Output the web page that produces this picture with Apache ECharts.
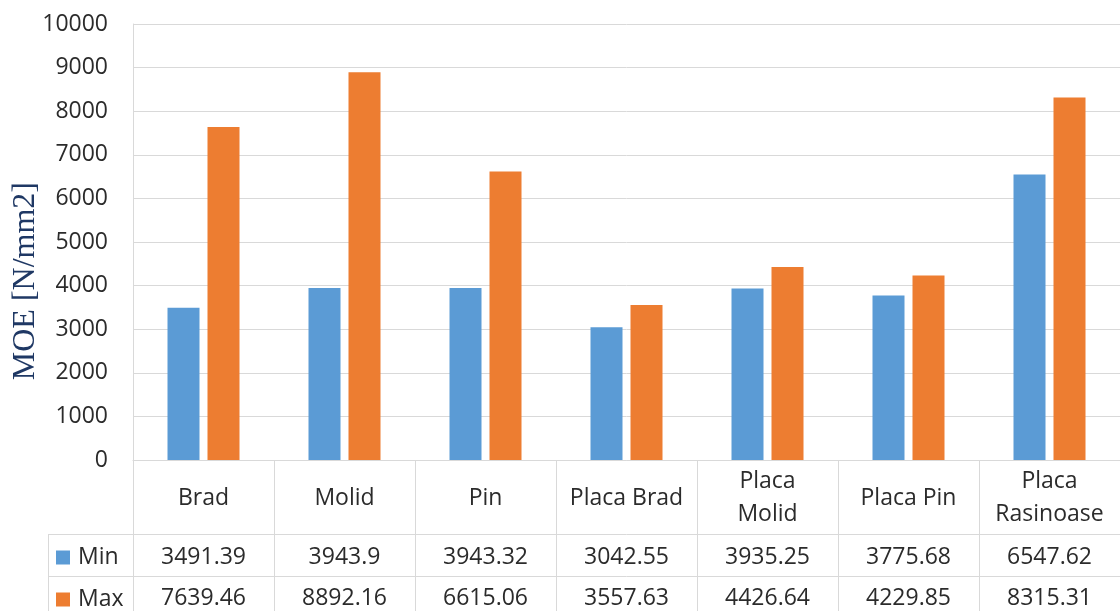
<!DOCTYPE html>
<html>
<head>
<meta charset="utf-8">
<title>MOE</title>
<script src="https://cdn.jsdelivr.net/npm/echarts@6/dist/echarts.min.js"></script>
<style>
  html, body { margin: 0; padding: 0; background: #ffffff; }
  #chart { width: 1120px; height: 611px; }
</style>
</head>
<body>
<div id="chart"></div>
<script>
// Sample categories and MOE values (N/mm2)
const categories = ['Brad', 'Molid', 'Pin', 'Placa Brad', 'Placa\nMolid', 'Placa Pin', 'Placa\nRasinoase'];
const minValues = [3491.39, 3943.9, 3943.32, 3042.55, 3935.25, 3775.68, 6547.62];
const maxValues = [7639.46, 8892.16, 6615.06, 3557.63, 4426.64, 4229.85, 8315.31];
const seriesNames = ['Min', 'Max'];
const yTicks = { min: 0, max: 10000, step: 1000 };

const lineColor = '#d9d9d9';
const textColor = '#2b2b2b';
const font = 'Open Sans';
const fontSize = 23;

const chart = echarts.init(document.getElementById('chart'), null, { renderer: 'canvas' });

// one value-row of the data table under the plot, as an extra category axis
function tableRow(values, offset, margin) {
  return {
    type: 'category',
    position: 'bottom',
    offset: offset,
    data: values.map(v => String(v)),
    axisLine: { show: true, lineStyle: { color: lineColor, width: 1 } },
    axisTick: { show: false },
    axisLabel: {
      interval: 0, fontFamily: font, fontSize: fontSize, color: textColor,
      verticalAlign: 'middle', margin: margin
    },
    splitLine: { show: false }
  };
}

// legend key for one table row
function rowKey(name, top) {
  return {
    orient: 'horizontal',
    left: 51,
    top: top,
    itemWidth: 14,
    itemHeight: 14,
    icon: 'rect',
    selectedMode: false,
    textStyle: { fontFamily: font, fontSize: fontSize, color: textColor, padding: [0, 0, 0, 3] },
    data: [name]
  };
}

chart.setOption({
  animation: false,
  grid: { left: 133, top: 24, width: 996, height: 436, containLabel: false },
  legend: [rowKey(seriesNames[0], 541), rowKey(seriesNames[1], 583)],
  xAxis: [
    {
      type: 'category',
      position: 'bottom',
      data: categories,
      axisLine: { show: true, lineStyle: { color: lineColor, width: 1 } },
      axisTick: { show: true, interval: 0, length: 152, lineStyle: { color: lineColor, width: 1 } },
      axisLabel: {
        interval: 0, fontFamily: font, fontSize: fontSize, color: textColor,
        lineHeight: 33, verticalAlign: 'middle', margin: 38, align: 'center'
      },
      splitLine: { show: false }
    },
    tableRow(minValues, 74, 23),
    tableRow(maxValues, 116, 22)
  ],
  yAxis: {
    type: 'value',
    min: yTicks.min,
    max: yTicks.max,
    interval: yTicks.step,
    axisLine: { show: true, lineStyle: { color: lineColor, width: 1 } },
    axisTick: { show: false },
    axisLabel: {
      fontFamily: font, fontSize: fontSize, color: textColor, margin: 25,
      formatter: v => String(v)
    },
    splitLine: { show: true, lineStyle: { color: lineColor, width: 1 } }
  },
  series: [
    {
      name: seriesNames[0], type: 'bar', xAxisIndex: 0, data: minValues,
      barWidth: 32, barGap: '25%',
      itemStyle: { color: '#5b9bd5' }
    },
    {
      name: seriesNames[1], type: 'bar', xAxisIndex: 0, data: maxValues,
      barWidth: 32, barGap: '25%',
      itemStyle: { color: '#ed7d31' }
    }
  ],
  graphic: [
    // axis title
    {
      type: 'text', left: 10, top: 182, rotation: Math.PI / 2,
      style: {
        text: 'MOE [N/mm2]', font: '32px "Liberation Serif", "DejaVu Serif", serif',
        fill: '#1f3864'
      }
    },
    // borders of the legend column in the data table
    { type: 'line', shape: { x1: 48, y1: 534.5, x2: 133, y2: 534.5 }, style: { stroke: lineColor, lineWidth: 1 } },
    { type: 'line', shape: { x1: 48, y1: 576.5, x2: 133, y2: 576.5 }, style: { stroke: lineColor, lineWidth: 1 } },
    { type: 'line', shape: { x1: 48.5, y1: 534, x2: 48.5, y2: 611 }, style: { stroke: lineColor, lineWidth: 1 } }
  ]
});
</script>
</body>
</html>
